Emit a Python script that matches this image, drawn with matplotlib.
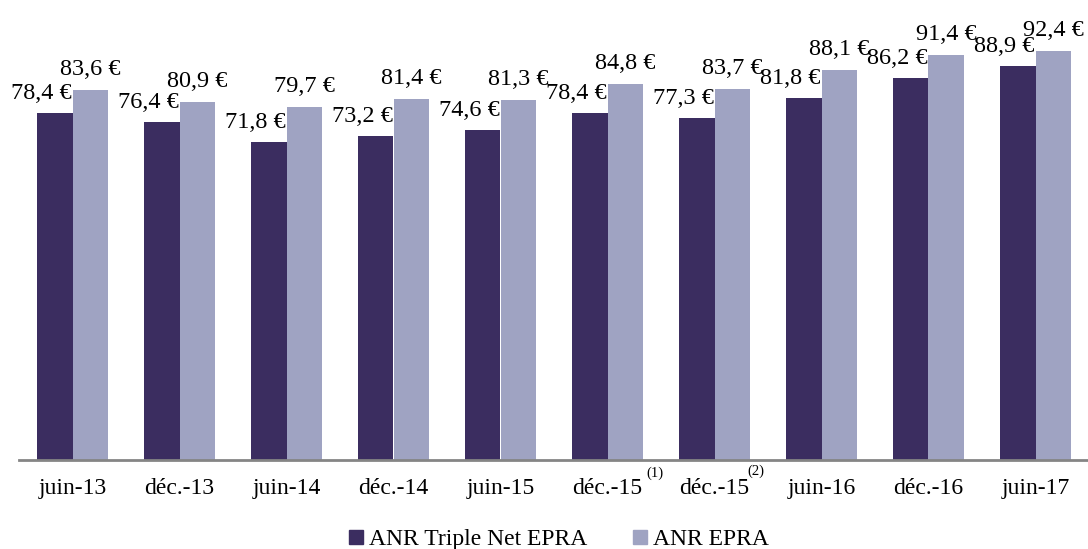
import numpy as np
import matplotlib.pyplot as plt
from matplotlib.lines import Line2D

plt.rcParams['font.family'] = ['Liberation Serif', 'DejaVu Serif']

periods = ['juin-13', 'déc.-13', 'juin-14', 'déc.-14', 'juin-15',
           'déc.-15', 'déc.-15', 'juin-16', 'déc.-16', 'juin-17']
footnotes = ['', '', '', '', '', '(1)', '(2)', '', '', '']
anr_triple_net = [78.4, 76.4, 71.8, 73.2, 74.6, 78.4, 77.3, 81.8, 86.2, 88.9]
anr_epra = [83.6, 80.9, 79.7, 81.4, 81.3, 84.8, 83.7, 88.1, 91.4, 92.4]

dark = '#3b2d60'
light = '#9fa3c2'

fig = plt.figure(figsize=(10.88, 5.49), dpi=100)
ax = fig.add_axes([19 / 1088, 89 / 549, 1070 / 1088, 443 / 549])

x = np.arange(len(periods))
w = 0.336
ax.bar(x - w / 2, anr_triple_net, width=w, color=dark)
ax.bar(x + w / 2, anr_epra, width=w, color=light)

def fmt(v):
    return f'{v:.1f} €'.replace('.', ',')

# étiquettes de valeur au-dessus des barres
for i in range(len(periods)):
    ax.annotate(fmt(anr_triple_net[i]), xy=(x[i], anr_triple_net[i]),
                xytext=(-1, 14), textcoords='offset pixels',
                ha='right', va='baseline', fontsize=17.5)
    ax.annotate(fmt(anr_epra[i]), xy=(x[i] + w / 2, anr_epra[i]),
                xytext=(0, 15), textcoords='offset pixels',
                ha='center', va='baseline', fontsize=17.5)

ax.set_xlim(-0.5, 9.5)
ax.set_ylim(0, 100)
ax.set_xticks(x)
ax.set_xticklabels(periods, fontsize=17)
ax.tick_params(axis='x', length=0, pad=13)
ax.set_yticks([])
for side in ['top', 'right', 'left']:
    ax.spines[side].set_visible(False)
ax.spines['bottom'].set_color('#858585')
ax.spines['bottom'].set_linewidth(2)

# renvois (1) et (2)
offsets = {5: (47, -13), 6: (41, -11)}
for i, note in enumerate(footnotes):
    if note:
        ax.annotate(note, xy=(x[i], 0), xycoords=('data', 'axes fraction'),
                    xytext=offsets[i], textcoords='offset pixels',
                    ha='center', va='center', fontsize=10.5, annotation_clip=False)

handles = [Line2D([], [], marker='s', linestyle='', color=dark, markersize=10.5),
           Line2D([], [], marker='s', linestyle='', color=light, markersize=10.5)]
fig.legend(handles, ['ANR Triple Net EPRA', 'ANR EPRA'], loc='center',
           bbox_to_anchor=(558 / 1088, 1 - 539 / 549), ncol=2, frameon=False,
           fontsize=17, handletextpad=0.2, columnspacing=1.9, handlelength=0.7)

fig.savefig('out.png', dpi=100)
